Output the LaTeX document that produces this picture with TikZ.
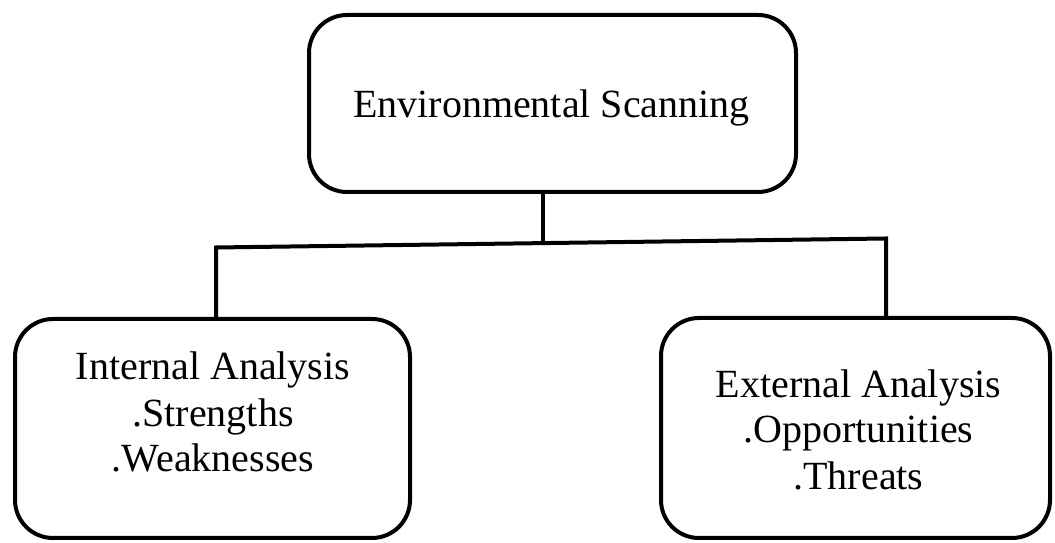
\documentclass[tikz,border=0pt]{standalone}
\usepackage{fontspec}
\setmainfont{Liberation Serif}
\begin{document}
\begin{tikzpicture}[x=1pt,y=1pt,
  box/.style={draw=black,line width=4pt,rounded corners=38pt,inner sep=0pt,fill=white},
  lbl/.style={inner sep=0pt,anchor=base,font=\fontsize{40}{46}\selectfont},
  link/.style={draw=black,line width=4pt}]
\useasboundingbox (0,0) rectangle (1055,543);
% boxes
\node[box,minimum width=487pt,minimum height=177pt] (top) at (552.5,439.5) {};
\node[box,minimum width=395pt,minimum height=219pt] (left) at (212.5,114.5) {};
\node[box,minimum width=389pt,minimum height=220pt] (right) at (855.5,115) {};
% texts
\node[lbl] (topT) at (551.5,425) {Environmental Scanning};
\node[lbl] (inA) at (213,163) {Internal Analysis};
\node[lbl] (inS) at (213,116) {.Strengths};
\node[lbl] (inW) at (213,71) {.Weaknesses};
\node[lbl] (exA) at (858.5,145) {External Analysis};
\node[lbl] (exO) at (858.5,100) {.Opportunities};
\node[lbl] (exT) at (858.5,53) {.Threats};
% connectors
\coordinate (jl) at (216,295.5);
\coordinate (jm) at (543,300);
\coordinate (jr) at (886,304.5);
\draw[link] (top.south -| jm) -- (jm);
\draw[link] (jl |- left.north) -- (jl) -- (jr) -- (jr |- right.north);
\end{tikzpicture}
\end{document}
